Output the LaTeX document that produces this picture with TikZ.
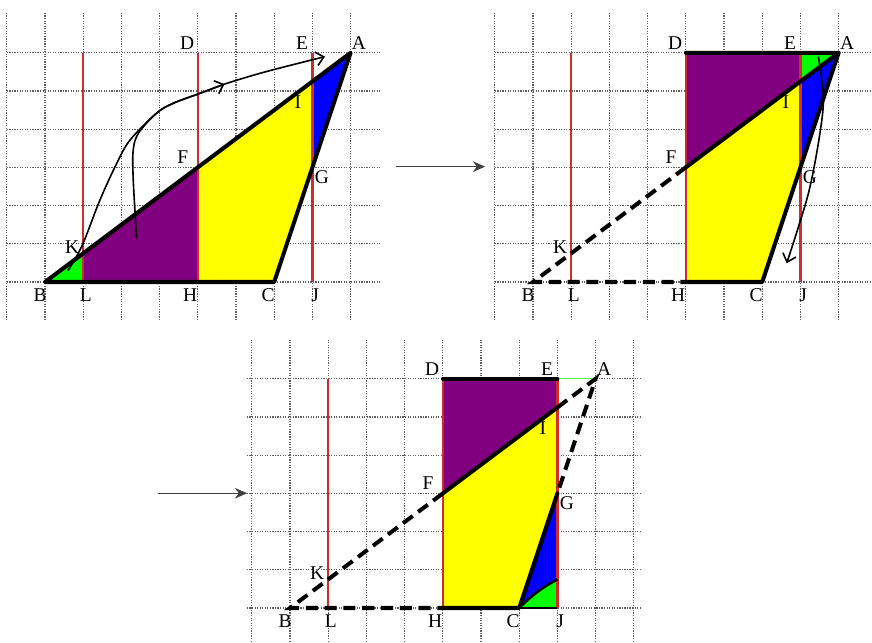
\documentclass[tikz,border=0pt]{standalone}
\usepackage{fontspec}
\setmainfont{Liberation Serif}
\usetikzlibrary{arrows.meta}

\definecolor{gridgray}{RGB}{95,95,95}
\definecolor{vred}{RGB}{205,45,45}
\definecolor{purp}{RGB}{128,0,128}
\definecolor{yel}{RGB}{255,255,0}
\definecolor{grn}{RGB}{0,255,0}
\definecolor{blu}{RGB}{0,0,255}

\tikzset{
  gridln/.style={gridgray,line width=0.9pt,densely dotted},
  vline/.style={vred,line width=1.8pt},
  edge/.style={line width=3pt,line join=round,line cap=round},
  dedge/.style={line width=3pt,dash pattern=on 9pt off 5pt},
  move/.style={line width=1.2pt,-{Straight Barb[length=2mm,width=3.6mm]}},
  nextarr/.style={black!75,line width=1.1pt,-{Stealth[length=3.2mm,width=2.8mm]}},
  lbl/.style={font=\fontsize{14.5}{17}\selectfont,inner sep=0pt},
}

% the lattice points of one panel
\newcommand{\gridpts}{%
  \coordinate (B) at (0,0);  \coordinate (L) at (1,0);
  \coordinate (H) at (4,0);  \coordinate (C) at (6,0);
  \coordinate (J) at (7,0);  \coordinate (Lt) at (1,6);
  \coordinate (D) at (4,6);  \coordinate (E) at (7,6);
  \coordinate (A) at (8,6);  \coordinate (F) at (4,3);
  \coordinate (G) at (7,3);  \coordinate (I) at (7,5.25);
  \coordinate (K) at (1,0.75); \coordinate (M) at (7,0.75)}
\newcommand{\ptlabels}{%
  \foreach \p/\dx/\dy in {D/-0.28/0.26,E/-0.27/0.26,A/0.22/0.26,I/-0.38/-0.54,
      F/-0.39/0.27,G/0.25/-0.25,K/-0.29/0.17,B/-0.13/-0.34,L/0.07/-0.34,
      H/-0.2/-0.34,C/-0.16/-0.34,J/0.07/-0.34}
    \node[lbl] (lbl\p) at ([shift={(\dx,\dy)}]\p) {\p};}

\begin{document}
\begin{tikzpicture}
  \useasboundingbox (-1.178,-9.45) rectangle (21.649,7.382);

  % first panel
  \begin{scope}[name prefix=p1-]
    \gridpts;
    \foreach \gx in {-1,...,8} \draw[gridln] (\gx,-1) -- (\gx,7.05);
    \foreach \gy in {0,...,6} \draw[gridln] (-1,\gy) -- (8.8,\gy);
    \fill[grn] (B) -- (L) -- (K) -- cycle;
    \fill[purp] (K) -- (L) -- (H) -- (F) -- cycle;
    \fill[yel] (F) -- (H) -- (C) -- (G) -- (I) -- cycle;
    \fill[blu] (I) -- (G) -- (A) -- cycle;
    \draw[vline] (L) -- (Lt);
    \draw[vline] (H) -- (D);
    \draw[vline] (J) -- (E);
    \draw[edge] (B) -- (C) -- (A) -- cycle;
    \draw[move] plot[smooth,tension=0.55] coordinates {(0.6,0.3) (0.97,0.95)
      (1.44,2.15) (1.88,3.11) (2.23,3.72) (2.92,4.42) (3.36,4.68) (4.06,4.94)
      (4.76,5.2) (5.8,5.51) (7.33,5.9)};
    \draw[move] plot[smooth,tension=0.55] coordinates {(2.4,1.14) (2.31,2.67)
      (2.31,3.46) (2.45,3.9) (2.92,4.42) (3.36,4.68) (4.06,4.94) (4.7,5.18)};
    \ptlabels
  \end{scope}

  % second panel
  \begin{scope}[shift={(12.775,0)},name prefix=p2-]
    \gridpts;
    \foreach \gx in {-1,...,8} \draw[gridln] (\gx,-1) -- (\gx,7.05);
    \foreach \gy in {0,...,6} \draw[gridln] (-1,\gy) -- (8.9,\gy);
    \fill[purp] (D) -- (E) -- (I) -- (F) -- cycle;
    \fill[grn] (E) -- (A) -- (I) -- cycle;
    \fill[yel] (F) -- (H) -- (C) -- (G) -- (I) -- cycle;
    \fill[blu] (I) -- (G) -- (A) -- cycle;
    \draw[vline] (L) -- (Lt);
    \draw[vline] (H) -- (D);
    \draw[vline] (J) -- (E);
    \draw[edge] (D) -- (A) -- (F);
    \draw[edge] (A) -- (C) -- (H);
    \draw[dedge] (F) -- (B) -- (H);
    \draw[move] plot[smooth,tension=0.6] coordinates {(7.47,5.9) (7.6,4.85)
      (7.51,3.89) (7.25,2.49) (6.95,1.45) (6.64,0.49)};
    \ptlabels
  \end{scope}

  % third panel
  \begin{scope}[shift={(6.414,-8.534)},name prefix=p3-]
    \gridpts;
    \foreach \gx in {-1,...,9} \draw[gridln] (\gx,-0.95) -- (\gx,7.02);
    \foreach \gy in {0,...,6} \draw[gridln] (-1.13,\gy) -- (9.16,\gy);
    \fill[purp] (D) -- (E) -- (I) -- (F) -- cycle;
    \fill[yel] (F) -- (H) -- (C) -- (G) -- (I) -- cycle;
    \fill[blu] (G) -- (C) to[bend left=8] (M) -- cycle;
    \fill[grn] (C) -- (J) -- (M) to[bend right=8] (C);
    \draw[grn!70!white,line width=0.6pt] (E) -- (A);
    \draw[vline] (L) -- (Lt);
    \draw[vline] (H) -- (D);
    \draw[vline] (J) -- (E);
    \draw[edge] (D) -- (E);
    \draw[edge] (F) -- (I);
    \draw[edge] (G) -- (C) -- (H);
    \draw[line width=1.6pt] (C) -- (J);
    \draw[line width=1.8pt] (C) to[bend left=8] (M);
    \draw[dedge] (I) -- (A) -- (G);
    \draw[dedge] (F) -- (B) -- (H);
    \ptlabels
  \end{scope}

  % steps between the panels
  \coordinate (s1) at (9.2,3.02);
  \coordinate (e1) at (11.52,3.02);
  \coordinate (s2) at (2.96,-5.53);
  \coordinate (e2) at (5.29,-5.53);
  \draw[nextarr] (s1) -- (e1);
  \draw[nextarr] (s2) -- (e2);
\end{tikzpicture}
\end{document}
